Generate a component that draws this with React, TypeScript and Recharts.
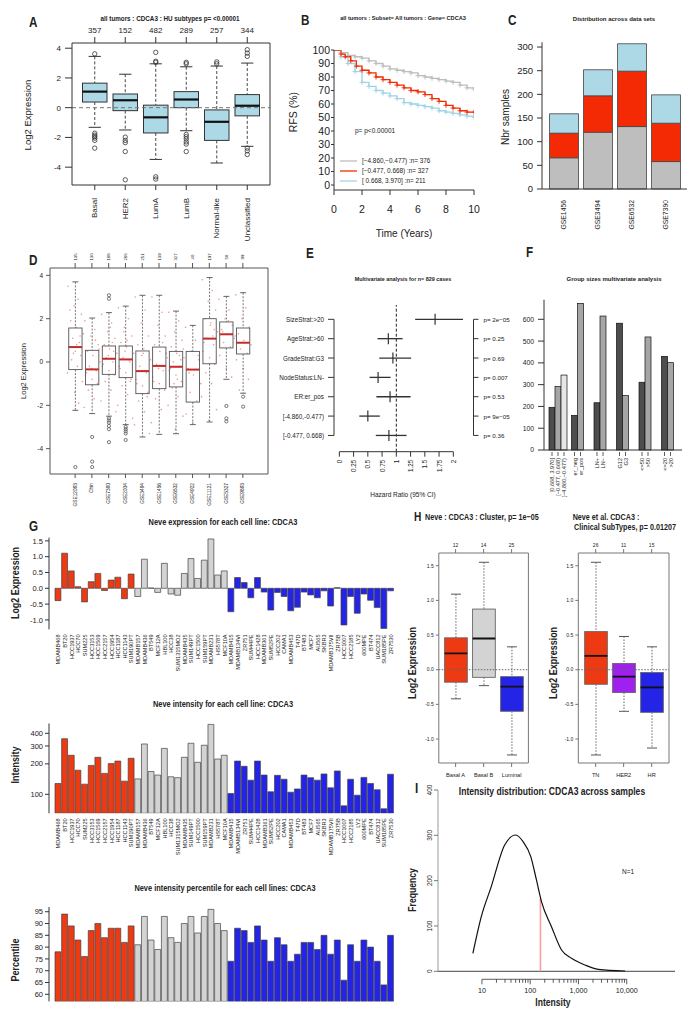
import React from 'react';
import { ComposedChart, BarChart, Bar, Line, Scatter, ErrorBar, XAxis, YAxis, ReferenceLine, Cell } from 'recharts';

const PW = 692, PH = 1020;
const SANS = '"Liberation Sans", Arial, Helvetica, sans-serif';
const NARROW = '"Liberation Sans Narrow", "Arial Narrow", "Liberation Sans", sans-serif';
const NARROW_SCALE = 0.78;
const INK = '#222';

// ---------------- Panel A ----------------
const A_GROUPS = ['Basal', 'HER2', 'LumA', 'LumB', 'Normal-like', 'Unclassified'];
const A_N = [357, 152, 482, 289, 257, 344];
const A_Q1 = [0.38, -0.2, -1.7, 0.0, -2.2, -0.55];
const A_MED = [1.08, 0.5, -0.65, 0.55, -0.95, 0.13];
const A_Q3 = [1.65, 0.92, 0.17, 1.08, -0.15, 0.88];
const A_WLO = [-1.32, -1.5, -3.48, -1.55, -3.72, -2.6];
const A_WHI = [3.45, 2.25, 2.95, 2.75, 2.8, 3.0];
const A_OUT = [
  [3.62, -1.72, -1.85, -1.95, -2.05, -2.2, -2.72],
  [-1.98, -2.2, -2.35, -2.95, -4.85],
  [3.72, 3.05, 3.12, -4.65, -4.8],
  [2.95, 3.05, -1.8, -1.95, -2.1, -2.3, -2.45, -2.95],
  [2.95, 3.08],
  [3.45, 3.67, 3.9, -2.72, -2.9, -3.15],
];

// ---------------- Panel B ----------------
const B_LOW = [[0,100],[0.5,98],[1,96],[1.5,95],[2,94],[2.5,92],[3,90],[3.5,88],[4,86],[4.5,85],[5,84],[5.5,83],[6,81],[6.5,80],[7,79],[7.5,78],[8,77],[8.5,76],[9,74],[9.5,72],[10,71]];
const B_MID = [[0,100],[0.5,97],[0.8,95],[1.2,92],[1.6,88],[2,85],[2.5,83],[3,80],[3.5,78],[4,76],[4.5,74],[5,72],[5.5,70],[6,69],[6.5,67],[7,64],[7.5,62],[8,59],[8.5,57],[9,55],[9.5,54],[10,54]];
const B_HIGH = [[0,100],[0.5,95],[1,90],[1.5,84],[2,76],[2.5,73],[3,70],[3.5,68],[4,66],[4.5,64],[5,61],[5.5,60],[6,59],[6.5,58],[7,57],[7.5,55],[8,54],[8.5,53],[9,52],[9.5,51],[10,50]];
const B_LEGEND = ['[\u22124.860,\u22120.477) :n= 376', '[\u22120.477, 0.668) :n= 327', '[ 0.668, 3.970] :n= 211'];

// ---------------- Panel C ----------------
const C_SETS = ['GSE1456', 'GSE3494', 'GSE6532', 'GSE7390'];
const C_LOW = [66, 120, 132, 58];
const C_MID = [52, 77, 117, 81];
const C_HIGH = [41, 55, 58, 60];

// ---------------- Panel D ----------------
const D_SETS = ['GSE12093', 'Chin', 'GSE7390', 'GSE2034', 'GSE3494', 'GSE1456', 'GSE6532', 'GSE4922', 'GSE11121', 'GSE5327', 'GSE9893'];
const D_N = [135, 130, 188, 286, 251, 139, 327, 40, 197, 58, 99];
const D_Q1 = [-0.35, -1.05, -0.57, -0.72, -1.46, -1.23, -1.15, -1.85, -0.08, 0.65, 0.37];
const D_MED = [0.69, -0.34, 0.15, 0.12, -0.42, -0.18, -0.22, -0.35, 1.08, 1.28, 0.89];
const D_Q3 = [1.57, 0.54, 0.74, 0.74, 0.51, 0.69, 0.49, 0.49, 2.0, 1.85, 1.57];
const D_WLO = [-2.23, -2.38, -2.5, -2.89, -3.46, -3.34, -3.31, -2.89, -2.77, -0.8, -1.44];
const D_WHI = [3.7, 2.03, 2.28, 2.58, 3.08, 3.08, 2.35, 1.69, 3.9, 3.03, 3.2];
const D_OUT = [[-4.85], [-3.46, -4.6, -4.85], [3.08, 2.92, -2.6, -2.7, -2.8, -2.95, -3.1, -3.7], [-3.0, -3.1, -3.2, -3.3, -3.6], [], [], [], [], [], [-2.03, -2.6, -2.74], [-1.6, -2.06]];
const D_PTS = [
  [3.5, 2.9, 2.6, 2.2, 1.9, 1.6, 1.3, 1.1, 0.9, 0.7, 0.5, 0.3, 0.1, -0.2, -0.5, -0.9, -1.4, -1.9, 2.4, 0.8, 1.2, 0.4],
  [1.9, 1.5, 1.2, 0.8, 0.5, 0.3, 0.0, -0.2, -0.4, -0.6, -0.8, -1.0, -1.3, -1.7, -2.1, 0.6, -0.3, 1.0, -0.5],
  [2.2, 1.8, 1.4, 1.1, 0.8, 0.6, 0.4, 0.2, 0.0, -0.2, -0.4, -0.6, -0.9, -1.3, -1.8, -2.3, 0.3, 0.9, -0.1, 1.6, 0.5],
  [2.5, 2.0, 1.6, 1.2, 0.9, 0.7, 0.4, 0.2, 0.0, -0.2, -0.5, -0.8, -1.1, -1.5, -2.0, -2.6, 0.5, 0.1, -0.3, 1.0, -0.9, 1.4],
  [3.0, 2.4, 1.8, 1.2, 0.8, 0.4, 0.1, -0.2, -0.5, -0.8, -1.1, -1.4, -1.8, -2.3, -2.9, -3.3, 0.3, -0.4, -1.0, 0.6, -1.6],
  [3.0, 2.3, 1.7, 1.2, 0.8, 0.5, 0.2, -0.1, -0.4, -0.7, -1.0, -1.3, -1.7, -2.2, -2.8, 0.4, -0.3, 0.9, -0.9],
  [2.3, 1.9, 1.4, 1.0, 0.7, 0.4, 0.2, 0.0, -0.2, -0.4, -0.6, -0.9, -1.2, -1.6, -2.0, -2.5, -3.1, 0.3, -0.3, -0.8, 0.1, -1.0, 0.6],
  [1.6, 1.0, 0.5, 0.1, -0.3, -0.6, -1.0, -1.4, -1.8, -2.4, -2.8, 0.3, -0.5],
  [3.8, 3.3, 2.8, 2.4, 2.0, 1.7, 1.4, 1.1, 0.8, 0.5, 0.2, -0.1, -0.5, -1.0, -1.6, -2.2, -2.7, 1.2, 0.9, 1.8, 1.5],
  [2.9, 2.4, 2.0, 1.7, 1.5, 1.3, 1.1, 0.9, 0.7, 0.3, -0.3, -0.7, 1.4, 1.9],
  [3.1, 2.5, 2.0, 1.6, 1.3, 1.0, 0.8, 0.6, 0.4, 0.1, -0.3, -0.8, -1.3, 0.9, 1.2],
];
const JIT = [-0.55, 0.2, -0.1, 0.45, -0.35, 0.05, 0.6, -0.2, 0.3, -0.5, 0.0, 0.4, -0.28, 0.15, -0.6, 0.52, -0.05, 0.25, -0.42, 0.1, 0.35, -0.15, 0.55];

// ---------------- Panel E ----------------
const E_LABELS = ['SizeStrat:>20', 'AgeStrat:>60', 'GradeStrat:G3', 'NodeStatus:LN-', 'ER:er_pos', '[-4.860,-0.477)', '[-0.477, 0.668)'];
const E_HR = [1.68, 0.86, 0.94, 0.68, 0.89, 0.5, 0.87];
const E_LO = [1.33, 0.67, 0.7, 0.53, 0.65, 0.35, 0.64];
const E_HI = [2.17, 1.11, 1.26, 0.9, 1.25, 0.71, 1.18];
const E_P = ['p= 2e\u221205', 'p= 0.25', 'p= 0.69', 'p= 0.007', 'p= 0.53', 'p= 9e\u221205', 'p= 0.36'];
const E_TICKS = [0, 0.25, 0.5, 0.75, 1, 1.25, 1.5, 1.75, 2];
const E_XMIN = -0.0935, E_XMAX = 2.354, E_YMIN = -0.74, E_YMAX = 6.84;

// ---------------- Panel F ----------------
const F_GROUPS = ['expr', 'er', 'ln', 'grade', 'age', 'size'];
const F_A = [196, 159, 217, 582, 311, 430];
const F_B = [291, 673, 615, 250, 519, 401];
const F_C = [344, null, null, null, null, null];
const F_LA = ['[0.668, 3.970]', 'er_neg', 'LN+', 'G12', '<=50', '<=20'];
const F_LB = ['[\u22120.477, 0.668)', 'er_pos', 'LN\u2212', 'G3', '>50', '>20'];
const F_LC = ['[\u22124.860,\u22120.477)', null, null, null, null, null];

// ---------------- Panel G ----------------
const G_BASAL_A = ['MDAMB468', 'BT20', 'HCC1937', 'HCC70', 'SUM225', 'HCC3153', 'HCC1569', 'HCC2157', 'HCC1954', 'HCC1187', 'HCC1143', 'SUM190PT'];
const G_BASAL_B = ['MDAMB157', 'MDAMB436', 'BT549', 'MCF12A', 'HBL100', 'HCC38', 'SUM1315MO2', 'MDAMB435', 'SUM149PT', 'HCC1500', 'SUM159PT', 'MDAMB231', 'HS578T', 'MCF10A'];
const G_LUMINAL = ['MDAMB415', 'MDAMB134VI', 'ZR751', 'SUM44PE', 'HCC1428', 'MDAMB361', 'SUM52PE', 'HCC202', 'CAMA1', 'MDAMB453', 'T47D', 'BT483', 'MCF7', 'AU565', 'SKBR3', 'MDAMB175VII', 'ZR75B', 'HCC1007', 'HCC2185', 'LY2', '600MPE', 'BT474', 'UACC812', 'SUM185PE', 'ZR7530'];
const G_EXPR = [-0.39, 1.11, 0.55, 0.05, -0.43, 0.21, 0.47, -0.07, 0.26, 0.35, -0.33, 0.45,
  -0.26, 0.92, 0.01, -0.13, 0.79, -0.18, -0.22, 0.47, 0.94, 0.31, 0.89, 1.56, 0.42, 0.55,
  -0.74, 0.34, 0.18, -0.3, 0.34, -0.12, -0.69, -0.13, -0.26, -0.71, -0.6, -0.12, -0.21, -0.3, -0.08, -0.56, 0.02, -1.16, -0.26, -0.79, -0.18, -0.38, -0.61, -1.27, -0.08];
const G_INT = [128, 354, 243, 173, 126, 193, 232, 161, 201, 213, 135, 227,
  142, 314, 168, 155, 284, 149, 146, 232, 319, 207, 305, 491, 223, 243,
  102, 213, 189, 138, 213, 155, 106, 154, 141, 105, 113, 155, 146, 138, 159, 116, 170, 77, 141, 98, 147, 128, 111, 72, 158];
const G_PCT = [78, 94, 89, 83, 76, 87, 90, 84, 88, 88, 82, 89,
  81, 93, 83, 79, 93, 84, 82, 90, 93, 86, 93, 96, 90, 87,
  74, 88, 87, 82, 89, 83, 74, 84, 81, 74, 77, 82, 82, 79, 85, 77, 83, 66, 81, 74, 83, 80, 74, 64, 85];

// ---------------- Panel H ----------------
const H1_GROUPS = ['Basal A', 'Basal B', 'Luminal'];
const H1_N = [12, 14, 25];
const H1_Q1 = [-0.18, -0.11, -0.6];
const H1_MED = [0.235, 0.45, -0.245];
const H1_Q3 = [0.46, 0.875, -0.1];
const H1_WLO = [-0.42, -0.23, -1.23];
const H1_WHI = [1.09, 1.55, 0.33];
const H2_GROUPS = ['TN', 'HER2', 'HR'];
const H2_N = [26, 11, 15];
const H2_Q1 = [-0.21, -0.33, -0.615];
const H2_MED = [0.2, -0.1, -0.255];
const H2_Q3 = [0.55, 0.09, -0.04];
const H2_WLO = [-1.23, -0.6, -1.13];
const H2_WHI = [1.55, 0.48, 0.33];

// ---------------- Panel I ----------------
const I_X = [6.5, 9.7, 15.6, 29.6, 50.1, 71.2, 102.8, 134.8, 171.4, 276, 446, 719, 1361, 2583, 9250];
const I_Y = [39.7, 120.6, 186.8, 278.7, 300.7, 286, 253, 201.5, 153.7, 98.5, 47, 28.7, 14, 4.4, 0.7];
const I_MARK_X = 163, I_MARK_Y = 161;
const I_TICKS = [10, 20, 30, 40, 50, 60, 70, 80, 90, 100, 200, 300, 400, 500, 600, 700, 800, 900, 1000, 2000, 3000, 4000, 5000, 6000, 7000, 8000, 9000, 10000];
const I_MAJOR: Record<number, string> = { 10: '10', 100: '100', 1000: '1,000', 10000: '10,000' };

// ---------------- colours ----------------
const C_RED = '#F42A05';
const G_RED = '#EE3A12';
const G_GRAY = '#D3D3D3';
const G_BLUE = '#2424E6';
const LBLUE = '#ADD8E6';

// ---------------- helpers ----------------
function mg(l: number, t: number, r: number, b: number, lw: number, th: number, rw: number, bh: number) {
  return { left: l - lw, top: t - th, right: PW - r - rw, bottom: PH - b - bh };
}
const Layer = ({ children }: any) => <div style={{ position: 'absolute', left: 0, top: 0 }}>{children}</div>;

const rotTick = (fs: number, dy: number, labels?: any[], anchor: string = 'end') => (p: any) => {
  const t = labels ? labels[p.index] : String(p.payload.value);
  const y0 = p.y + dy;
  return (
    <text x={p.x} y={y0} transform={`rotate(-90 ${p.x} ${y0})`} textAnchor={anchor} dominantBaseline="central" fontSize={fs} fill={INK}>{t}</text>
  );
};
const hTick = (fs: number, dy: number, labels?: any[]) => (p: any) => (
  <text x={p.x} y={p.y + dy} textAnchor="middle" fontSize={fs} fill={INK}>{labels ? labels[p.index] : String(p.payload.value)}</text>
);
const sideTick = (fs: number, anchor: string, labels: string[]) => (p: any) => (
  <text x={p.x} y={p.y} textAnchor={anchor} dominantBaseline="central" fontSize={fs} fill={INK}>{labels[p.payload.value]}</text>
);

type BoxStyle = { fill: string; stroke: string; sw: number; wStroke: string; dash: string; cap: number; med: string; medW: number; outR: number; jitter?: string };
const boxRange = (d: any) => [Math.min(d.wlo, ...d.out), Math.max(d.whi, ...d.out)];
function boxShape(st: BoxStyle) {
  return (p: any) => {
    const d = p.payload;
    if (!d) return <g />;
    const [lo, hi] = boxRange(d);
    const Y = (v: number) => p.y + ((hi - v) / (hi - lo)) * p.height;
    const w = p.width, cx = p.x + w / 2, cw = (w * st.cap) / 2;
    const fill = d.fill || st.fill;
    return (
      <g>
        {d.pts && d.pts.map((v: number, i: number) => (
          <circle key={'j' + i} cx={cx + JIT[i % JIT.length] * w} cy={Y(v)} r={0.8} fill={st.jitter} />
        ))}
        <line x1={cx} x2={cx} y1={Y(d.whi)} y2={Y(d.q3)} stroke={st.wStroke} strokeDasharray={st.dash} strokeWidth={0.9} />
        <line x1={cx} x2={cx} y1={Y(d.q1)} y2={Y(d.wlo)} stroke={st.wStroke} strokeDasharray={st.dash} strokeWidth={0.9} />
        <line x1={cx - cw} x2={cx + cw} y1={Y(d.whi)} y2={Y(d.whi)} stroke={st.wStroke} strokeWidth={1} />
        <line x1={cx - cw} x2={cx + cw} y1={Y(d.wlo)} y2={Y(d.wlo)} stroke={st.wStroke} strokeWidth={1} />
        <rect x={p.x} y={Y(d.q3)} width={w} height={Y(d.q1) - Y(d.q3)} fill={fill} stroke={st.stroke} strokeWidth={st.sw} />
        <line x1={p.x} x2={p.x + w} y1={Y(d.med)} y2={Y(d.med)} stroke={st.med} strokeWidth={st.medW} />
        {d.out.map((v: number, i: number) => (
          <circle key={'o' + i} cx={cx} cy={Y(v)} r={st.outR} fill="none" stroke={st.stroke} strokeWidth={0.8} />
        ))}
      </g>
    );
  };
}

// ---------------- data tables ----------------
const A_DATA = A_GROUPS.map((g, i) => ({ g, q1: A_Q1[i], med: A_MED[i], q3: A_Q3[i], wlo: A_WLO[i], whi: A_WHI[i], out: A_OUT[i] }));
const mkKM = (arr: number[][]) => arr.map(([t, s]) => ({ t, s }));
const C_DATA = C_SETS.map((g, i) => ({ g, low: C_LOW[i], mid: C_MID[i], high: C_HIGH[i] }));
const D_DATA = D_SETS.map((g, i) => ({ g, q1: D_Q1[i], med: D_MED[i], q3: D_Q3[i], wlo: D_WLO[i], whi: D_WHI[i], out: D_OUT[i], pts: D_PTS[i] }));
const E_DATA = E_LABELS.map((l, i) => ({ row: i, hr: E_HR[i], err: [E_HR[i] - E_LO[i], E_HI[i] - E_HR[i]] }));
const F_DATA = F_GROUPS.map((g, i) => ({ g, a: F_A[i], b: F_B[i], c: F_C[i], la: F_LA[i], lb: F_LB[i], lc: F_LC[i] }));
const G_NAMES = [...G_BASAL_A, ...G_BASAL_B, ...G_LUMINAL];
const G_COLS = [...G_BASAL_A.map(() => G_RED), ...G_BASAL_B.map(() => G_GRAY), ...G_LUMINAL.map(() => G_BLUE)];
const G_DATA = G_NAMES.map((name, i) => ({ name, expr: G_EXPR[i], int: G_INT[i], pct: G_PCT[i], col: G_COLS[i] }));
const H1_FILLS = [G_RED, G_GRAY, G_BLUE];
const H2_FILLS = [G_RED, '#A020F0', G_BLUE];
const H1_DATA = H1_GROUPS.map((g, i) => ({ g, q1: H1_Q1[i], med: H1_MED[i], q3: H1_Q3[i], wlo: H1_WLO[i], whi: H1_WHI[i], out: [], fill: H1_FILLS[i] }));
const H2_DATA = H2_GROUPS.map((g, i) => ({ g, q1: H2_Q1[i], med: H2_MED[i], q3: H2_Q3[i], wlo: H2_WLO[i], whi: H2_WHI[i], out: [], fill: H2_FILLS[i] }));
const I_DATA = I_X.map((x, i) => ({ x, y: I_Y[i] }));

// ---------------- panels ----------------
function PanelA() {
  const dom: [number, number] = [-5.2, 4.35];
  const st: BoxStyle = { fill: LBLUE, stroke: '#333', sw: 1, wStroke: '#333', dash: '3 2', cap: 0.5, med: '#111', medW: 2.2, outR: 2.2 };
  return (
    <Layer>
      <ComposedChart width={PW} height={PH} data={A_DATA} margin={mg(72, 43, 270, 185, 30, 20, 1, 60)}>
        <XAxis dataKey="g" interval={0} padding={{ left: 7.5, right: 7.5 }} height={60} tickSize={5} tickMargin={0} tickLine={{ stroke: '#333' }} axisLine={{ stroke: '#333' }} tick={rotTick(8, 8)} />
        <XAxis xAxisId="top" orientation="top" dataKey="g" interval={0} padding={{ left: 7.5, right: 7.5 }} height={20} tickSize={6} tickMargin={0} tickLine={{ stroke: '#333' }} axisLine={{ stroke: '#333' }} tick={hTick(8, -4, A_N)} />
        <YAxis type="number" domain={dom} allowDataOverflow ticks={[-4, -2, 0, 2, 4]} interval={0} width={30} tickSize={7} tickMargin={4} tickLine={{ stroke: '#333' }} axisLine={{ stroke: '#333' }} tick={{ fontSize: 8, fill: INK }} />
        <YAxis yAxisId="r" orientation="right" type="number" domain={dom} allowDataOverflow tick={false} tickLine={false} width={1} axisLine={{ stroke: '#333' }} />
        <ReferenceLine y={0} stroke="#777" strokeDasharray="4 3" strokeWidth={1} />
        <Bar dataKey={boxRange} barSize={24.5} shape={boxShape(st)} isAnimationActive={false} />
      </ComposedChart>
    </Layer>
  );
}

const censorDot = (c: string) => (p: any) => {
  if (p.index === 0) return <g key={'c' + p.index} />;
  return <path key={'c' + p.index} d={`M${p.cx - 2.5},${p.cy}h5M${p.cx},${p.cy - 2.5}v5`} stroke={c} strokeWidth={0.9} fill="none" />;
};

function PanelB() {
  return (
    <Layer>
      <ComposedChart width={PW} height={PH} margin={mg(334, 50, 474, 190, 40, 0, 0, 30)}>
        <XAxis dataKey="t" type="number" domain={[0, 10]} ticks={[0, 2, 4, 6, 8, 10]} interval={0} height={30} tickSize={5} tickMargin={0} tickLine={{ stroke: '#333' }} axisLine={{ stroke: '#333' }} tick={hTick(10.5, 17.5)} allowDataOverflow />
        <YAxis type="number" domain={[-3.7, 100]} ticks={[0, 10, 20, 30, 40, 50, 60, 70, 80, 90, 100]} interval={0} width={40} tickSize={3} tickMargin={1} tickLine={{ stroke: '#333' }} axisLine={{ stroke: '#333' }} tick={{ fontSize: 10.5, fill: INK }} allowDataOverflow />
        <Line data={mkKM(B_LOW)} dataKey="s" type="stepAfter" stroke="#BDBDBD" strokeWidth={1.3} dot={censorDot('#BDBDBD')} isAnimationActive={false} />
        <Line data={mkKM(B_HIGH)} dataKey="s" type="stepAfter" stroke="#9FD3E6" strokeWidth={1.3} dot={censorDot('#9FD3E6')} isAnimationActive={false} />
        <Line data={mkKM(B_MID)} dataKey="s" type="stepAfter" stroke={C_RED} strokeWidth={1.3} dot={censorDot(C_RED)} isAnimationActive={false} />
      </ComposedChart>
    </Layer>
  );
}

function PanelC() {
  return (
    <Layer>
      <BarChart width={PW} height={PH} data={C_DATA} margin={mg(542, 42.3, 687, 189, 40, 0, 0, 50)}>
        <XAxis dataKey="g" interval={0} padding={{ left: 4.5, right: 4.5 }} height={50} tickSize={0} tickMargin={0} tickLine={false} axisLine={{ stroke: '#333' }} tick={rotTick(6.8, 11)} />
        <YAxis type="number" domain={[0, 310]} ticks={[0, 50, 100, 150, 200, 250, 300]} interval={0} width={40} tickSize={5} tickMargin={4} tickLine={{ stroke: '#333' }} axisLine={{ stroke: '#333' }} tick={{ fontSize: 9.5, fill: INK }} />
        <Bar dataKey="low" stackId="s" barSize={29} fill="#BEBEBE" stroke="#444" strokeWidth={0.8} isAnimationActive={false} />
        <Bar dataKey="mid" stackId="s" barSize={29} fill={C_RED} stroke="#444" strokeWidth={0.8} isAnimationActive={false} />
        <Bar dataKey="high" stackId="s" barSize={29} fill={LBLUE} stroke="#444" strokeWidth={0.8} isAnimationActive={false} />
      </BarChart>
    </Layer>
  );
}

function PanelD() {
  const dom: [number, number] = [-5.17, 4.34];
  const st: BoxStyle = { fill: 'none', stroke: '#555', sw: 0.9, wStroke: '#666', dash: '2 1.5', cap: 0.45, med: '#C42A2A', medW: 2, outR: 1.6, jitter: 'rgba(235,90,90,0.65)' };
  return (
    <Layer>
      <ComposedChart width={PW} height={PH} data={D_DATA} margin={mg(50, 268, 268, 474, 30, 14, 1, 50)}>
        <XAxis dataKey="g" interval={0} padding={{ left: 16.75, right: 16.75 }} height={50} tickSize={4} tickMargin={0} tickLine={{ stroke: '#555' }} axisLine={{ stroke: '#555' }} tick={rotTick(4.8, 5)} />
        <XAxis xAxisId="top" orientation="top" dataKey="g" interval={0} padding={{ left: 16.75, right: 16.75 }} height={14} tickSize={5} tickMargin={0} tickLine={{ stroke: '#555' }} axisLine={{ stroke: '#555' }} tick={rotTick(4.3, -6, D_N, 'middle')} />
        <YAxis type="number" domain={dom} allowDataOverflow ticks={[-4, -2, 0, 2, 4]} interval={0} width={30} tickSize={4} tickMargin={3} tickLine={{ stroke: '#555' }} axisLine={{ stroke: '#555' }} tick={{ fontSize: 6.5, fill: INK }} />
        <YAxis yAxisId="r" orientation="right" type="number" domain={dom} allowDataOverflow tick={false} tickLine={false} width={1} axisLine={{ stroke: '#555' }} />
        <Bar dataKey={boxRange} barSize={13.3} shape={boxShape(st)} isAnimationActive={false} />
      </ComposedChart>
    </Layer>
  );
}

function PanelE() {
  const ydom: [number, number] = [E_YMIN, E_YMAX];
  return (
    <Layer>
      <ComposedChart width={PW} height={PH} data={E_DATA} margin={mg(334, 305, 473.5, 451.7, 80, 0, 60, 40)}>
        <XAxis dataKey="hr" type="number" domain={[E_XMIN, E_XMAX]} allowDataOverflow ticks={E_TICKS} interval={0} height={40} tickSize={5} tickMargin={0} tickLine={{ stroke: '#333' }} axisLine={false} tick={rotTick(6.3, 3)} />
        <YAxis dataKey="row" type="number" domain={ydom} reversed allowDataOverflow ticks={[0, 1, 2, 3, 4, 5, 6]} interval={0} width={80} tickSize={6} tickMargin={4} tickLine={{ stroke: '#333' }} axisLine={false} tick={sideTick(6.3, 'end', E_LABELS)} />
        <YAxis yAxisId="r" orientation="right" type="number" domain={ydom} reversed allowDataOverflow ticks={[0, 1, 2, 3, 4, 5, 6]} interval={0} width={60} tickSize={5} tickMargin={5} tickLine={{ stroke: '#333' }} axisLine={false} tick={sideTick(6.2, 'start', E_P)} />
        <ReferenceLine x={1} stroke="#222" strokeDasharray="3 2" />
        <ReferenceLine segment={[{ x: E_XMIN, y: 0 }, { x: E_XMIN, y: 6 }]} stroke="#333" ifOverflow="visible" />
        <ReferenceLine yAxisId="r" segment={[{ x: E_XMAX, y: 0 }, { x: E_XMAX, y: 6 }]} stroke="#333" ifOverflow="visible" />
        <ReferenceLine segment={[{ x: 0, y: E_YMAX }, { x: 2, y: E_YMAX }]} stroke="#333" ifOverflow="visible" />
        <Scatter dataKey="row" isAnimationActive={false} shape={(p: any) => <line x1={p.cx} x2={p.cx} y1={p.cy - 5.5} y2={p.cy + 5.5} stroke="#333" strokeWidth={1.2} />}>
          <ErrorBar dataKey="err" direction="x" width={0} stroke="#333" strokeWidth={1.3} />
        </Scatter>
      </ComposedChart>
    </Layer>
  );
}

const fShape = (valKey: string, labKey: string, fill: string) => (p: any) => {
  const d = p.payload;
  if (!d || d[valKey] == null) return <g />;
  const x = p.x + p.width / 2;
  const yb = p.y + p.height;
  return (
    <g>
      <rect x={p.x} y={p.y} width={p.width} height={p.height} fill={fill} stroke="#111" strokeWidth={0.7} />
      <line x1={x} x2={x} y1={yb + 2} y2={yb + 6} stroke="#333" strokeWidth={0.8} />
      <text x={x} y={yb + 8} transform={`rotate(-90 ${x} ${yb + 8})`} textAnchor="end" dominantBaseline="central" fontSize={5.6} fill={INK}>{d[labKey]}</text>
    </g>
  );
};

function PanelF() {
  return (
    <Layer>
      <BarChart width={PW} height={PH} data={F_DATA} margin={mg(544, 299.7, 682, 450, 40, 0, 0, 1)} barGap={0}>
        <XAxis dataKey="g" interval={0} padding={{ left: 3, right: 0 }} height={1} tick={false} tickLine={false} axisLine={{ stroke: '#333' }} />
        <YAxis type="number" domain={[0, 690]} ticks={[0, 100, 200, 300, 400, 500, 600]} interval={0} width={40} tickSize={6} tickMargin={4} tickLine={{ stroke: '#333' }} axisLine={{ stroke: '#333' }} tick={{ fontSize: 6.8, fill: INK }} />
        <Bar dataKey="a" barSize={6} isAnimationActive={false} shape={fShape('a', 'la', '#4D4D4D')} />
        <Bar dataKey="b" barSize={6} isAnimationActive={false} shape={fShape('b', 'lb', '#A6A6A6')} />
        <Bar dataKey="c" barSize={6} isAnimationActive={false} shape={fShape('c', 'lc', '#E6E6E6')} />
      </BarChart>
    </Layer>
  );
}

function GChart(props: { top: number; bottom: number; dataKey: string; domain: [number, number]; ticks: number[]; log?: boolean; labels: boolean; fmt?: (v: number) => string }) {
  const { top, bottom, dataKey, domain, ticks, log, labels, fmt } = props;
  return (
    <Layer>
      <BarChart width={PW} height={PH} data={G_DATA} margin={mg(49, top, 398, bottom, 40, 0, 0, labels ? 40 : 0)}>
        <XAxis dataKey="name" interval={0} padding={{ left: 6, right: 3.8 }} height={labels ? 40 : 0} hide={!labels} tickSize={0} tickMargin={0} tickLine={false} axisLine={false} tick={rotTick(5.6, 5)} />
        <YAxis type="number" scale={log ? 'log' : 'auto'} domain={domain} allowDataOverflow ticks={ticks} interval={0} width={40} tickSize={4} tickMargin={2} tickLine={{ stroke: '#333' }} axisLine={{ stroke: '#333' }} tickFormatter={fmt} tick={{ fontSize: 7.5, fill: INK }} />
        <Bar dataKey={dataKey} barSize={5.9} stroke="#444" strokeWidth={0.7} isAnimationActive={false}>
          {G_DATA.map((d, i) => <Cell key={i} fill={d.col} />)}
        </Bar>
      </BarChart>
    </Layer>
  );
}

function HChart(props: { data: any[]; n: number[]; left: number; right: number; pad: number }) {
  const dom: [number, number] = [-1.346, 1.684];
  const st: BoxStyle = { fill: '#ccc', stroke: '#666', sw: 0.9, wStroke: '#555', dash: '1.5 1.5', cap: 0.44, med: '#111', medW: 1.8, outR: 1.5 };
  const pad = { left: props.pad, right: props.pad };
  return (
    <Layer>
      <ComposedChart width={PW} height={PH} data={props.data} margin={mg(props.left, 553, props.right, 763, 30, 12, 1, 20)}>
        <XAxis dataKey="g" interval={0} padding={pad} height={20} tickSize={4} tickMargin={0} tickLine={{ stroke: '#777' }} axisLine={{ stroke: '#777' }} tick={hTick(5.6, 10)} />
        <XAxis xAxisId="top" orientation="top" dataKey="g" interval={0} padding={pad} height={12} tickSize={4} tickMargin={0} tickLine={{ stroke: '#777' }} axisLine={{ stroke: '#777' }} tick={hTick(5, -2, props.n)} />
        <YAxis type="number" domain={dom} allowDataOverflow ticks={[-1, -0.5, 0, 0.5, 1, 1.5]} interval={0} width={30} tickSize={3} tickMargin={2} tickLine={{ stroke: '#777' }} axisLine={{ stroke: '#777' }} tickFormatter={(v: number) => v.toFixed(1)} tick={{ fontSize: 5, fill: INK }} />
        <YAxis yAxisId="r" orientation="right" type="number" domain={dom} allowDataOverflow tick={false} tickLine={false} width={1} axisLine={{ stroke: '#777' }} />
        <ReferenceLine y={0} stroke="#666" strokeDasharray="1.5 1.5" />
        <Bar dataKey={boxRange} barSize={22.7} shape={boxShape(st)} isAnimationActive={false} />
      </ComposedChart>
    </Layer>
  );
}

const iTick = (p: any) => {
  const v = p.payload.value;
  const major = I_MAJOR[v];
  const y0 = p.y + 8;
  return (
    <g>
      <line x1={p.x} x2={p.x} y1={y0} y2={y0 + (major ? 5 : 3.5)} stroke="#333" strokeWidth={0.8} />
      {major && <text x={p.x} y={y0 + 14} textAnchor="middle" fontSize={7.2} fill={INK}>{major}</text>}
    </g>
  );
};
const iYTick = (p: any) => (
  <text x={p.x} y={p.y} transform={`rotate(-90 ${p.x} ${p.y})`} textAnchor="middle" fontSize={6.5} fill={INK}>{p.payload.value}</text>
);

function PanelI() {
  const xdom: [number, number] = [1.23, 100000];
  return (
    <Layer>
      <ComposedChart width={PW} height={PH} data={I_DATA} margin={mg(438, 790, 675, 971.3, 30, 0, 0, 40)}>
        <XAxis dataKey="x" type="number" scale="log" domain={xdom} allowDataOverflow ticks={I_TICKS} interval={0} height={40} tickSize={0} tickMargin={0} tickLine={false} axisLine={false} tick={iTick} />
        <YAxis type="number" domain={[0, 400]} ticks={[0, 100, 200, 300, 400]} interval={0} width={30} tickSize={4} tickMargin={2} tickLine={{ stroke: '#777' }} axisLine={{ stroke: '#999' }} tick={iYTick} />
        <ReferenceLine y={0} stroke="#444" strokeWidth={1} />
        <ReferenceLine segment={[{ x: 10, y: -17.6 }, { x: 10000, y: -17.6 }]} stroke="#333" strokeWidth={0.8} ifOverflow="visible" />
        <ReferenceLine segment={[{ x: I_MARK_X, y: 0 }, { x: I_MARK_X, y: I_MARK_Y }]} stroke="#F4A0A0" strokeWidth={1.6} />
        <Line dataKey="y" type="monotone" stroke="#111" strokeWidth={1.2} dot={false} isAnimationActive={false} />
      </ComposedChart>
    </Layer>
  );
}

// ---------------- overlay text ----------------
const T = (p: { x: number; y: number; s: number; b?: boolean; n?: boolean; a?: string; r?: boolean; c?: string; children: any }) => {
  const parts: string[] = [];
  if (p.r) parts.push(`rotate(-90 ${p.x} ${p.y})`);
  if (p.n) parts.push(`translate(${p.x} ${p.y}) scale(${NARROW_SCALE} 1) translate(${-p.x} ${-p.y})`);
  return (
    <text x={p.x} y={p.y} fontSize={p.s} fontWeight={p.b ? 'bold' : 'normal'} fontFamily={p.n ? NARROW : SANS} textAnchor={p.a || 'start'}
      fill={p.c || INK} dominantBaseline={p.r ? 'central' : undefined} transform={parts.length ? parts.join(' ') : undefined}>{p.children}</text>
  );
};

function Overlay() {
  const legCols = ['#BDBDBD', C_RED, '#9FD3E6'];
  return (
    <svg width={PW} height={PH} style={{ position: 'absolute', left: 0, top: 0, pointerEvents: 'none' }}>
      {/* panel letters */}
      <T x={29} y={27} s={15} b n>A</T>
      <T x={301} y={25} s={15} b n>B</T>
      <T x={508} y={25} s={15} b n>C</T>
      <T x={29} y={265} s={15} b n>D</T>
      <T x={306} y={258} s={15} b n>E</T>
      <T x={526} y={257} s={15} b n>F</T>
      <T x={29} y={531} s={15} b n>G</T>
      <T x={414} y={521} s={13} b n>H</T>
      <T x={415} y={793} s={15} b n>I</T>
      {/* titles */}
      <T x={170} y={21} s={6.3} b a="middle">all tumors : CDCA3 : HU subtypes p= &lt;0.00001</T>
      <T x={403} y={20} s={5.6} b a="middle">all tumors : Subset= All tumors : Gene= CDCA3</T>
      <T x={614} y={21} s={6} b a="middle">Distribution across data sets</T>
      <T x={403} y={281} s={5.4} b a="middle">Multivariate analysis for n= 829 cases</T>
      <T x={614} y={281} s={6} b a="middle">Group sizes multivariate analysis</T>
      <T x={223} y={525} s={9.5} b n a="middle">Neve  expression for each cell line: CDCA3</T>
      <T x={223} y={707} s={9.5} b n a="middle">Neve  intensity for each cell line: CDCA3</T>
      <T x={225} y={891} s={9.5} b n a="middle">Neve  intensity percentile for each cell lines: CDCA3</T>
      <T x={425} y={520} s={9.2} b n>Neve : CDCA3 : Cluster, p= 1e−05</T>
      <T x={606} y={520} s={9.2} b n a="middle">Neve et al. CDCA3 :</T>
      <T x={625} y={530} s={9.2} b n a="middle">Clinical SubTypes, p= 0.01207</T>
      <T x={552} y={795} s={11} b n a="middle">Intensity distribution: CDCA3 across samples</T>
      {/* axis titles */}
      <T x={27} y={115} s={9.5} r a="middle">Log2 Expression</T>
      <T x={293} y={112} s={10.5} r a="middle">RFS (%)</T>
      <T x={404} y={237} s={10} a="middle">Time (Years)</T>
      <T x={505} y={117} s={10} r a="middle">Nbr samples</T>
      <T x={23} y={371} s={7.5} r a="middle">Log2 Expression</T>
      <T x={403} y={497} s={6.5} a="middle">Hazard Ratio (95% CI)</T>
      <T x={15} y={583} s={11.5} b n r a="middle">Log2 Expression</T>
      <T x={15} y={765} s={11.5} b n r a="middle">Intensity</T>
      <T x={15} y={960} s={11.5} b n r a="middle">Percentile</T>
      <T x={412} y={663} s={11.5} b n r a="middle">Log2 Expression</T>
      <T x={553} y={663} s={11.5} b n r a="middle">Log2 Expression</T>
      <T x={412} y={890} s={11} b n r a="middle">Frequency</T>
      <T x={553} y={1006} s={11} b n a="middle">Intensity</T>
      {/* B annotations */}
      <T x={355} y={133} s={6.5}>p= p&lt;0.00001</T>
      {B_LEGEND.map((t, i) => (
        <g key={i}>
          <line x1={340} x2={357} y1={161 + i * 10} y2={161 + i * 10} stroke={legCols[i]} strokeWidth={1.3} />
          <T x={362} y={163.3 + i * 10} s={6.4}>{t}</T>
        </g>
      ))}
      <T x={622} y={874} s={6.5}>N=1</T>
    </svg>
  );
}

export default function App() {
  return (
    <div style={{ position: 'absolute', left: 0, top: 0, width: PW, height: PH, background: '#fff', fontFamily: SANS, overflow: 'hidden' }}>
      <PanelA />
      <PanelB />
      <PanelC />
      <PanelD />
      <PanelE />
      <PanelF />
      <GChart top={537.7} bottom={629.4} dataKey="expr" domain={[-1.3, 1.6]} ticks={[-1, -0.5, 0, 0.5, 1, 1.5]} labels fmt={(v) => v.toFixed(1)} />
      <GChart top={723.5} bottom={813.3} dataKey="int" domain={[65, 500]} ticks={[100, 200, 300, 400]} log labels />
      <GChart top={907} bottom={1001.4} dataKey="pct" domain={[57, 97]} ticks={[60, 65, 70, 75, 80, 85, 90, 95]} labels={false} />
      <HChart data={H1_DATA} n={H1_N} left={438.8} right={528.4} pad={2.8} />
      <HChart data={H2_DATA} n={H2_N} left={578.3} right={669} pad={3.35} />
      <PanelI />
      <Overlay />
    </div>
  );
}
